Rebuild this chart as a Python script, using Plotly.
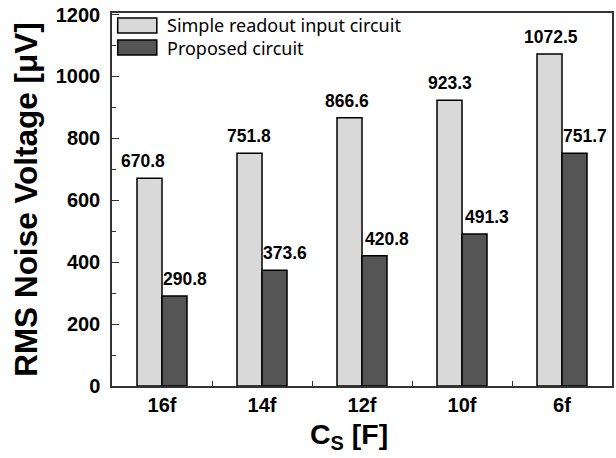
import plotly.graph_objects as go

# ---- data ----
categories = ["16f", "14f", "12f", "10f", "6f"]
simple_vals = [670.8, 751.8, 866.6, 923.3, 1072.5]
proposed_vals = [290.8, 373.6, 420.8, 491.3, 751.7]
simple_name = "Simple readout input circuit"
proposed_name = "Proposed circuit"
y_tick_step = 200
x_title = "C<sub>S</sub> [F]"
y_title = "RMS Noise Voltage [\u03bcV]"

# ---- styling ----
LIGHT = "#d9d9d9"
DARK = "#555555"
AXIS = "#333333"
BOLD = "Liberation Sans, Arial, sans-serif"
LEG = "Noto Sans, sans-serif"
simple_nudge = [-7, -1, -3, 0, 1.5]
proposed_nudge = [10.5, 10.3, 12.8, 12.7, 10]

fig = go.Figure()
fig.add_bar(x=categories, y=simple_vals, name=simple_name,
            marker=dict(color=LIGHT, line=dict(color="black", width=1.5)))
fig.add_bar(x=categories, y=proposed_vals, name=proposed_name,
            marker=dict(color=DARK, line=dict(color="black", width=1.5)))

fig.update_layout(
    width=616, height=458,
    margin=dict(l=112, r=2, t=13, b=72),
    barmode="group", bargap=0.5, bargroupgap=0,
    plot_bgcolor="white", paper_bgcolor="white",
    showlegend=False,
)

fig.update_xaxes(
    type="category", range=[-0.5, 4.5],
    tickson="boundaries", ticks="inside", ticklen=5, tickwidth=1.3, tickcolor=AXIS,
    showline=True, linecolor=AXIS, linewidth=1.5, mirror=True, showgrid=False,
    tickfont=dict(family=BOLD, size=20, color="black", weight="bold"),
)
fig.update_yaxes(
    range=[0, 1205], tickmode="linear", tick0=0, dtick=y_tick_step,
    ticks="inside", ticklen=7, tickwidth=1.3, tickcolor=AXIS,
    minor=dict(dtick=y_tick_step / 2, ticks="inside", ticklen=4, tickcolor=AXIS, tickwidth=1.3),
    showline=True, linecolor=AXIS, linewidth=1.5, mirror=True, showgrid=False, zeroline=False,
    ticklabelstandoff=6,
    tickfont=dict(family=BOLD, size=20, color="black", weight="bold"),
    title=dict(text=y_title, standoff=9,
               font=dict(family=BOLD, size=31.5, color="black", weight="bold")),
)

# x-axis title placed as annotation (slightly left of centre, as in the reference)
fig.add_annotation(xref="paper", yref="paper", x=0.474, y=0, yshift=-30,
                   xanchor="center", yanchor="top", showarrow=False, text=x_title,
                   font=dict(family=BOLD, size=28.5, color="black", weight="bold"))

# value labels
for i, v in enumerate(simple_vals):
    fig.add_annotation(x=i - 0.125, y=v, xref="x", yref="y", text=f"{v:.1f}",
                       showarrow=False, yanchor="bottom", yshift=5, xshift=simple_nudge[i],
                       font=dict(family=BOLD, size=17.5, color="black", weight="bold"))
for i, v in enumerate(proposed_vals):
    fig.add_annotation(x=i + 0.125, y=v, xref="x", yref="y", text=f"{v:.1f}",
                       showarrow=False, yanchor="bottom", yshift=5, xshift=proposed_nudge[i],
                       font=dict(family=BOLD, size=17.5, color="black", weight="bold"))

# manual legend
legend_rows = [(simple_name, LIGHT, 0.9464, 0.9866), (proposed_name, DARK, 0.8874, 0.9276)]
for name, col, y0, y1 in legend_rows:
    fig.add_shape(type="rect", xref="paper", yref="paper", x0=0.0114, x1=0.0896, y0=y0, y1=y1,
                  fillcolor=col, line=dict(color="black", width=1.5))
    fig.add_annotation(xref="paper", yref="paper", x=0.1076, y=(y0 + y1) / 2, text=name,
                       showarrow=False, xanchor="left", yanchor="middle", borderpad=0,
                       font=dict(family=LEG, size=18, color="black"))

fig.write_html("out.html")
